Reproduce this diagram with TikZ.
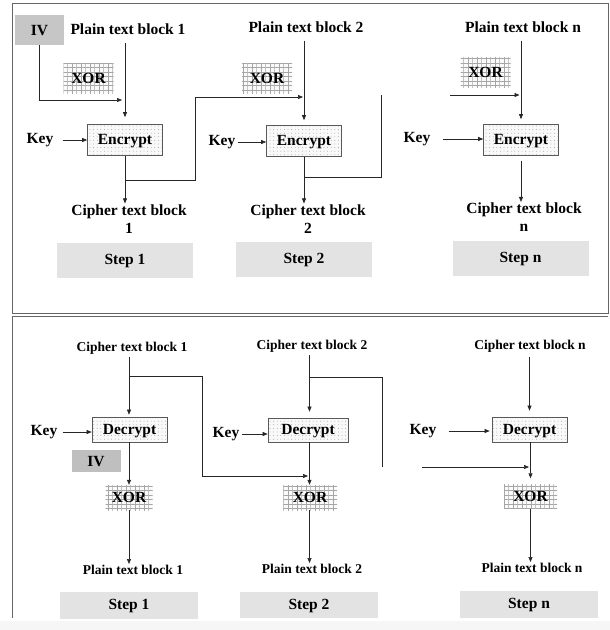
\documentclass[tikz,border=0pt]{standalone}
\usepackage{fontspec}
\setmainfont{Liberation Serif}
\usetikzlibrary{arrows.meta,patterns}

\pgfdeclarepatternformonly{xorgrid}{\pgfpoint{-0.2pt}{-0.2pt}}{\pgfpoint{4.7pt}{4.7pt}}{\pgfpoint{4.5pt}{4.5pt}}{%
  \pgfsetlinewidth{0.35pt}
  \pgfpathmoveto{\pgfpointorigin}\pgfpathlineto{\pgfpoint{4.5pt}{0pt}}
  \pgfpathmoveto{\pgfpointorigin}\pgfpathlineto{\pgfpoint{0pt}{4.5pt}}
  \pgfusepath{stroke}}
\pgfdeclarepatternformonly{encdots}{\pgfpoint{-1pt}{-1pt}}{\pgfpoint{1pt}{1pt}}{\pgfpoint{3.6pt}{3.6pt}}{%
  \pgfpathcircle{\pgfpointorigin}{0.45pt}
  \pgfusepath{fill}}

\begin{document}
\begin{tikzpicture}[x=1pt,y=-1pt,
    lbl/.style={font=\bfseries\fontsize{15.5}{18}\selectfont,inner sep=1pt,align=center},
    sml/.style={font=\bfseries\fontsize{13.5}{16}\selectfont,inner sep=1pt},
    cipherbox/.style={draw=black!65,line width=0.7pt,preaction={fill=gray!5},pattern=encdots,pattern color=gray!80,
        minimum width=75pt,minimum height=31pt,inner sep=0pt,text height=11pt,text depth=2pt,
        font=\bfseries\fontsize{15.5}{18}\selectfont},
    xorbox/.style={preaction={fill=gray!4},pattern=xorgrid,pattern color=gray!70,minimum width=50pt,minimum height=30pt,
        inner sep=0pt,text height=11pt,text depth=1pt,font=\bfseries\fontsize{15.5}{18}\selectfont},
    ivbox/.style={fill=gray!45,minimum width=49pt,minimum height=30pt,inner sep=0pt,
        text height=11pt,text depth=1pt,font=\bfseries\fontsize{15.5}{18}\selectfont},
    stepbox/.style={fill=gray!22,minimum width=136pt,minimum height=35pt,inner sep=0pt,
        text height=11pt,text depth=3pt,font=\bfseries\fontsize{15.5}{18}\selectfont},
    arr/.style={-{Triangle[length=5pt,width=4pt]},line width=0.6pt,black!85}]
\useasboundingbox (0,0) rectangle (610,630);
\fill[gray!7] (0,621) rectangle (610,630);

% frames
\draw[black!60,line width=0.8pt] (12,3) rectangle (608,313);
\draw[black!60,line width=0.8pt] (12,618) -- (12,316) -- (608,316);

% encryption, step 1
\node[ivbox] (iv) at (39.5,30) {IV};
\node[lbl] (pt1) at (128,29) {Plain text block 1};
\node[xorbox] (xor1) at (88.5,78) {XOR};
\node[cipherbox] (enc1) at (125,140) {Encrypt};
\node[lbl] (key1) at (40,140) {Key};
\node[lbl] (ct1) at (129,219) {Cipher text block\\1};
\node[stepbox] (step1) at (125,260.5) {Step 1};
\coordinate (jn1) at (122,100);
\coordinate (br1) at (125,180);
\coordinate (up1) at (195,97);
\coordinate (jn2) at (303,97);
\draw[arr] (iv.south) |- (jn1);
\draw[arr,shorten <=7pt,shorten >=7pt] (pt1.south -| enc1) -- (enc1);
\draw[arr,shorten <=8pt] (key1) -- (key1 -| enc1.west);
\draw[arr] (enc1.south) -- (enc1.south |- ct1.north);
\draw[arr] (br1) -| (up1) -- (jn2);

% encryption, step 2
\node[lbl] (pt2) at (306,27) {Plain text block 2};
\node[xorbox] (xor2) at (267,78) {XOR};
\node[cipherbox] (enc2) at (304,141) {Encrypt};
\node[lbl] (key2) at (222,142) {Key};
\node[lbl] (ct2) at (308,219) {Cipher text block\\2};
\node[stepbox] (step2) at (304,259.5) {Step 2};
\coordinate (br2) at (304,177);
\coordinate (up2) at (381,95);
\draw[arr,shorten <=7pt,shorten >=5pt] (pt2.south -| enc2) -- (enc2);
\draw[arr,shorten <=1pt] (key2) -- (key2 -| enc2.west);
\draw[arr] (enc2.south) -- (enc2.south |- ct2.north);
\draw[line width=0.6pt,black!85] (br2) -| (up2);

% encryption, step n
\node[lbl] (ptn) at (523,27) {Plain text block n};
\node[xorbox] (xorn) at (485.5,72) {XOR};
\node[cipherbox] (encn) at (521,140) {Encrypt};
\node[lbl] (keyn) at (417,139) {Key};
\node[lbl] (ctn) at (524,217.5) {Cipher text block\\n};
\node[stepbox] (stepn) at (520.5,258) {Step n};
\coordinate (inn) at (450,95);
\coordinate (jnn) at (519.5,95);
\draw[arr] (inn) -- (jnn);
\draw[arr,shorten <=7pt,shorten >=5pt] (ptn.south -| encn) -- (encn);
\draw[arr,shorten <=11pt] (keyn) -- (keyn -| encn.west);
\draw[arr,shorten <=5pt] (encn.south) -- (encn.south |- ctn.north);

% decryption, step 1
\node[sml] (cb1) at (132,348) {Cipher text block 1};
\node[cipherbox,minimum height=25pt] (dec1) at (129.5,429.5) {Decrypt};
\node[lbl] (kb1) at (44,432) {Key};
\node[ivbox,minimum height=22pt,fill=gray!50] (ivb) at (96,461) {IV};
\node[xorbox,minimum height=25pt,minimum width=47pt] (xb1) at (129,497.5) {XOR};
\node[sml] (pb1) at (133,570) {Plain text block 1};
\node[stepbox,minimum height=27pt,minimum width=138pt] (sb1) at (129,605.5) {Step 1};
\coordinate (bb1) at (129,376);
\coordinate (dn1) at (202,476);
\coordinate (jb2) at (308,476);
\draw[arr,shorten <=2pt,shorten >=2pt] (cb1.south -| xb1) -- (xb1 |- dec1.north);
\draw[arr,shorten <=4pt] (kb1) -- (kb1 -| dec1.west);
\draw[arr] (dec1.south -| xb1) -- (xb1);
\draw[arr] (xb1) -- (xb1 |- pb1.north);
\draw[arr] (bb1) -| (dn1) -- (jb2);

% decryption, step 2
\node[sml] (cb2) at (312,346) {Cipher text block 2};
\node[cipherbox,minimum height=24pt,minimum width=80pt] (dec2) at (308,430) {Decrypt};
\node[lbl] (kb2) at (226,434) {Key};
\node[xorbox,minimum height=25pt,minimum width=54pt] (xb2) at (310,497.5) {XOR};
\node[sml] (pb2) at (312,569) {Plain text block 2};
\node[stepbox,minimum height=26pt,minimum width=138pt] (sb2) at (309,605) {Step 2};
\coordinate (bb2) at (309.5,377);
\coordinate (up2b) at (382,467);
\draw[arr,shorten <=2pt,shorten >=6pt] (cb2.south -| bb2) -- (bb2 |- dec2.north);
\draw[arr,shorten <=1pt] (kb2) -- (kb2 -| dec2.west);
\draw[arr] (dec2.south -| bb2) -- (bb2 |- xb2.north);
\draw[arr] (xb2.south -| bb2) -- (bb2 |- pb2.north);
\draw[line width=0.6pt,black!85] (bb2) -| (up2b);

% decryption, step n
\node[sml] (cbn) at (530,346) {Cipher text block n};
\node[cipherbox,minimum height=25pt] (decn) at (529.5,429.5) {Decrypt};
\node[lbl] (kbn) at (423,431) {Key};
\node[xorbox,minimum height=24pt,minimum width=53pt] (xbn) at (530.5,496.5) {XOR};
\node[sml] (pbn) at (532,568) {Plain text block n};
\node[stepbox,minimum height=27pt,minimum width=138pt] (sbn) at (529,604.5) {Step n};
\coordinate (ibn) at (422,467);
\coordinate (jbn) at (529,467);
\draw[arr,shorten <=4pt,shorten >=6pt] (cbn.south -| decn) -- (decn);
\draw[arr,shorten <=11pt,shorten >=2pt] (kbn) -- (kbn -| decn.west);
\draw[arr,shorten >=6pt] (decn.south -| xbn) -- (xbn);
\draw[arr] (ibn) -- (jbn);
\draw[arr] (xbn) -- (xbn |- pbn.north);
\end{tikzpicture}
\end{document}
